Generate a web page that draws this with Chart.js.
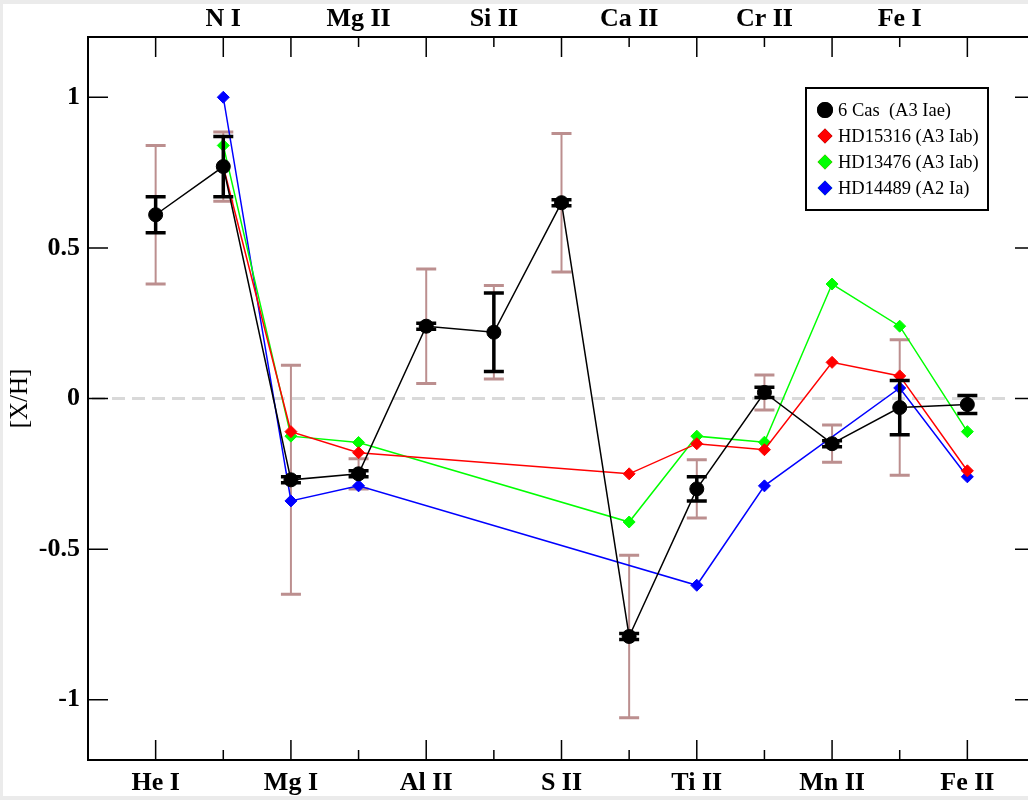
<!DOCTYPE html>
<html>
<head>
<meta charset="utf-8">
<script src="https://cdn.jsdelivr.net/npm/chart.js@4.4.1/dist/chart.umd.min.js"></script>
<style>
    html, body { margin: 0; padding: 0; overflow: hidden; background: #ebebeb; }
    #wrap { position: absolute; left: 3px; top: 4px; width: 1040px; height: 792px; background: #fff; }
</style>
</head>
<body>
<div id="wrap"><canvas id="abundChart" width="1040" height="792"></canvas></div>
<script>
// 元素 (x 轴类别)
const elements = ['He I', 'N I', 'Mg I', 'Mg II', 'Al II', 'Si II', 'S II', 'Ca II', 'Ti II', 'Cr II', 'Mn II', 'Fe I', 'Fe II'];
const bottomLabelIdx = [0, 2, 4, 6, 8, 10, 12];
const topLabelIdx = [1, 3, 5, 7, 9, 11];
const yTickValues = [-1, -0.5, 0, 0.5, 1];

// 6 Cas 丰度及误差
const cas6 = [0.61, 0.77, -0.27, -0.25, 0.24, 0.22, 0.65, -0.79, -0.30, 0.02, -0.15, -0.03, -0.02];
const cas6Err = [0.06, 0.10, 0.01, 0.01, 0.01, 0.13, 0.01, 0.01, 0.04, 0.017, 0.01, 0.09, 0.03];
const cas6SysErr = [0.23, 0.115, 0.38, 0.05, 0.19, 0.155, 0.23, 0.27, 0.097, 0.058, 0.062, 0.225, null];

// 对比星
const hd15316 = [null, 0.77, -0.11, -0.18, null, null, null, -0.25, -0.15, -0.17, 0.12, 0.075, -0.24];
const hd13476 = [null, 0.84, -0.125, -0.146, null, null, null, -0.41, -0.125, -0.145, 0.38, 0.24, -0.11];
const hd14489 = [null, 1.0, -0.34, -0.29, null, null, null, null, -0.62, -0.29, null, 0.035, -0.26];

const FONT = '"Liberation Serif", "Times New Roman", serif';

function toPoints(arr) {
    return arr.map((v, i) => ({ x: i, y: v }));
}

// 画误差棒
function drawErrorBars(ctx, xs, ys, vals, errs, color, lineW, capLineW) {
    ctx.save();
    ctx.strokeStyle = color;
    for (let i = 0; i < vals.length; i++) {
        if (vals[i] === null || errs[i] === null) continue;
        const px = xs.getPixelForValue(i);
        const top = ys.getPixelForValue(vals[i] + errs[i]);
        const bot = ys.getPixelForValue(vals[i] - errs[i]);
        ctx.lineWidth = lineW;
        ctx.beginPath();
        ctx.moveTo(px, top);
        ctx.lineTo(px, bot);
        ctx.stroke();
        ctx.lineWidth = capLineW;
        ctx.beginPath();
        ctx.moveTo(px - 10, top);
        ctx.lineTo(px + 10, top);
        ctx.moveTo(px - 10, bot);
        ctx.lineTo(px + 10, bot);
        ctx.stroke();
    }
    ctx.restore();
}

// 边框、内向刻度、零线、图例
const framePlugin = {
    id: 'frame',
    beforeDatasetsDraw(chart) {
        const { ctx, chartArea: a, scales: { x, y } } = chart;
        ctx.save();
        ctx.strokeStyle = '#d9d9d9';
        ctx.lineWidth = 3;
        ctx.setLineDash([13, 7]);
        ctx.beginPath();
        ctx.moveTo(a.left + 4, y.getPixelForValue(0));
        ctx.lineTo(x.getPixelForValue(12.62), y.getPixelForValue(0));
        ctx.stroke();
        ctx.restore();
        drawErrorBars(ctx, x, y, cas6, cas6SysErr, '#bc8f8f', 2, 3);
    },
    afterDatasetsDraw(chart) {
        const { ctx, chartArea: a, scales: { x, y } } = chart;
        drawErrorBars(ctx, x, y, cas6, cas6Err, '#000', 3.5, 3.5);

        ctx.save();
        ctx.strokeStyle = '#000';
        ctx.lineWidth = 2;
        ctx.strokeRect(a.left, a.top, a.right - a.left, a.bottom - a.top);

        ctx.lineWidth = 1.5;
        ctx.beginPath();
        elements.forEach((_, i) => {
            const px = x.getPixelForValue(i);
            const lenB = bottomLabelIdx.includes(i) ? 20 : 10;
            const lenT = (bottomLabelIdx.includes(i) || i === 1) ? 20 : 10;
            ctx.moveTo(px, a.bottom);
            ctx.lineTo(px, a.bottom - lenB);
            ctx.moveTo(px, a.top);
            ctx.lineTo(px, a.top + lenT);
        });
        yTickValues.forEach(v => {
            const py = y.getPixelForValue(v);
            ctx.moveTo(a.left, py);
            ctx.lineTo(a.left + 20, py);
            ctx.moveTo(a.right, py);
            ctx.lineTo(a.right - 20, py);
        });
        ctx.stroke();

        // 图例
        const box = { left: a.right - 229, top: a.top + 51, width: 182, height: 122 };
        ctx.lineWidth = 2;
        ctx.strokeRect(box.left, box.top, box.width, box.height);
        ctx.font = '18.5px ' + FONT;
        ctx.textBaseline = 'middle';
        ctx.fillStyle = '#000';
        chart.data.datasets.forEach((ds, i) => {
            const cy = box.top + 22 + i * 26;
            Chart.helpers.drawPoint(ctx, {
                pointStyle: ds.pointStyle,
                radius: ds.pointRadius,
                borderWidth: 1,
                rotation: 0
            }, box.left + 19, cy);
            ctx.fillStyle = ds.pointBackgroundColor;
            ctx.strokeStyle = ds.pointBackgroundColor;
            ctx.fill();
            ctx.stroke();
            ctx.fillStyle = '#000';
            ctx.fillText(ds.label, box.left + 32, cy + 1);
        });
        ctx.restore();
    }
};

function makeSeries(label, values, color, style, radius) {
    return {
        label: label,
        data: toPoints(values),
        borderColor: color,
        borderWidth: 1.5,
        pointStyle: style,
        pointRadius: radius,
        pointBackgroundColor: color,
        pointBorderColor: color,
        pointBorderWidth: 1,
        spanGaps: true,
        tension: 0
    };
}

const tickFont = { family: FONT, size: 26, weight: 'bold' };

new Chart(document.getElementById('abundChart'), {
    type: 'line',
    data: {
        datasets: [
            makeSeries('6 Cas  (A3 Iae)', cas6, '#000000', 'circle', 7),
            makeSeries('HD15316 (A3 Iab)', hd15316, '#ff0000', 'rectRot', 6),
            makeSeries('HD13476 (A3 Iab)', hd13476, '#00ff00', 'rectRot', 6),
            makeSeries('HD14489 (A2 Ia)', hd14489, '#0000ff', 'rectRot', 6)
        ]
    },
    options: {
        responsive: false,
        animation: false,
        devicePixelRatio: 1,
        layout: { padding: { left: 0, right: 6, top: 0, bottom: 0 } },
        plugins: {
            legend: { display: false },
            tooltip: { enabled: false }
        },
        scales: {
            x: {
                type: 'linear',
                position: 'bottom',
                min: -1,
                max: 13,
                grid: { display: false, drawTicks: false },
                border: { display: false },
                afterBuildTicks: s => { s.ticks = bottomLabelIdx.map(v => ({ value: v })); },
                ticks: {
                    autoSkip: false,
                    maxRotation: 0,
                    padding: 8,
                    color: '#000',
                    font: tickFont,
                    callback: v => elements[v]
                },
                afterFit: s => { s.height = 36; }
            },
            x2: {
                type: 'linear',
                position: 'top',
                min: -1,
                max: 13,
                grid: { display: false, drawTicks: false },
                border: { display: false },
                afterBuildTicks: s => { s.ticks = topLabelIdx.map(v => ({ value: v })); },
                ticks: {
                    autoSkip: false,
                    maxRotation: 0,
                    padding: 2,
                    color: '#000',
                    font: tickFont,
                    callback: v => elements[v]
                },
                afterFit: s => { s.height = 33; }
            },
            y: {
                min: -1.2,
                max: 1.2,
                grid: { display: false, drawTicks: false },
                border: { display: false },
                afterBuildTicks: s => { s.ticks = yTickValues.map(v => ({ value: v })); },
                ticks: {
                    padding: 8,
                    color: '#000',
                    font: tickFont,
                    callback: v => String(v)
                },
                title: {
                    display: true,
                    text: '[X/H]',
                    color: '#000',
                    font: { family: FONT, size: 25, weight: 'normal' },
                    padding: { top: 2, bottom: 0 }
                },
                afterFit: s => { s.width = 85; }
            }
        }
    },
    plugins: [framePlugin]
});
</script>
</body>
</html>
